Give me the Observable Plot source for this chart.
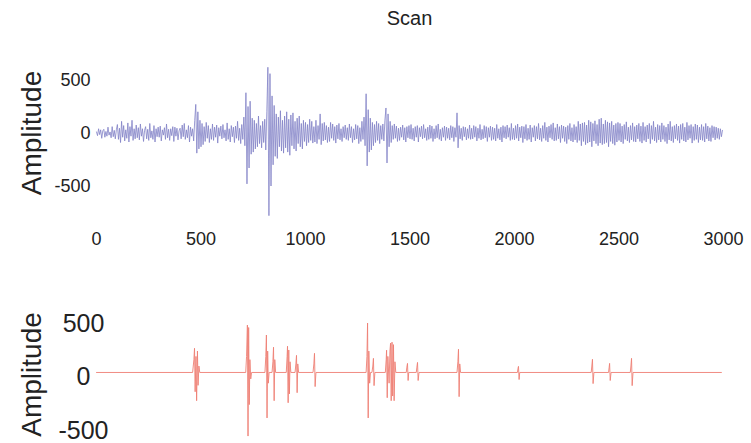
<!DOCTYPE html>
<html>
<head>
<meta charset="utf-8">
<script src="https://cdn.jsdelivr.net/npm/d3@7"></script>
<script src="https://cdn.jsdelivr.net/npm/@observablehq/plot@0.6"></script>
<style>
  html, body { margin: 0; padding: 0; background: #fff; }
  #wrap { position: relative; width: 751px; height: 443px; font-family: "Liberation Sans", Arial, sans-serif; color: #222; overflow: hidden; }
  #title { position: absolute; left: 96px; width: 627px; top: 7px; text-align: center; font-size: 20px; line-height: 22px; }
  #top { position: absolute; left: 0; top: 40px; }
  #bottom { position: absolute; left: 0; top: 265px; }
</style>
</head>
<body>
<div id="wrap">
  <div id="title">Scan</div>
  <div id="top"></div>
  <div id="bottom"></div>
</div>
<script>
// ---- Data ----
const titleText = "Scan";
const yLabel = "Amplitude";
const xTicks = [0, 500, 1000, 1500, 2000, 2500, 3000];
const yTicks = [-500, 0, 500];

// Top trace: amplitude every 5 samples (sample 0 .. 2995)
const scanStep = 5;
const scanValues = [
  10,-25,40,-15,30,-50,20,35,-40,15,-30,55,-20,10,-45,60,-35,25,-55,30,
  80,-60,45,-90,110,-40,70,-75,30,-50,95,-85,60,-30,120,-70,40,-55,75,-45,
  50,-65,85,-30,40,-80,25,60,-55,35,-70,90,-45,20,-60,70,-85,40,-35,55,
  -40,65,-75,30,-20,50,-60,85,-45,35,-70,40,-25,60,-80,55,-30,45,-65,20,
  45,-55,75,-35,90,-60,30,-45,70,-85,55,-30,40,-75,120,270,-190,200,-150,120,
  -130,90,-110,60,-80,100,-50,70,-90,40,-60,85,-70,55,-40,75,-95,50,-30,65,
  -55,80,-45,30,-75,95,-60,40,-85,70,-35,55,-90,65,-50,110,-70,45,-100,80,
  -60,150,-120,380,-480,250,-330,300,-200,140,-180,120,-150,90,-130,160,-100,70,-140,110,
  -90,130,-160,200,620,-780,560,-500,350,-300,260,-220,180,-240,150,-130,210,-170,120,-190,
  160,-140,200,-180,130,-210,170,-120,190,-150,110,-170,140,-100,160,-130,90,-150,120,-80,
  100,-120,80,-90,130,-70,110,-95,60,-85,120,-100,70,-60,180,-110,90,-75,100,-65,
  70,-90,55,-80,100,-50,85,-70,60,-95,75,-55,90,-65,40,-80,60,-45,75,-60,
  50,-70,85,-45,60,-90,40,-65,80,-55,70,-100,50,-80,110,-60,150,-120,370,-310,
  220,-180,140,-160,100,-120,80,-90,110,-70,90,-100,70,-60,85,-75,120,236,-283,180,
  -130,110,-90,70,-60,85,-50,65,-80,45,-70,55,-40,75,-65,50,-85,60,-45,70,
  -55,80,-60,45,-75,60,-40,70,-85,50,-35,65,-55,80,-45,40,-70,55,-60,75,
  -50,65,-80,40,-55,70,-45,85,-60,35,-75,50,-40,65,-70,55,-50,45,-65,70,
  -45,60,-80,50,-40,190,-140,70,-55,45,-70,60,-35,55,-65,40,-50,75,-60,45,
  -55,70,-40,60,-75,45,-50,80,-65,35,-55,70,-45,60,-80,50,-40,65,-70,55,
  -60,45,-75,80,-50,40,-65,55,-85,70,-45,60,-55,75,-40,50,-70,90,-60,45,
  -65,70,-50,85,-75,55,-45,65,-90,60,-55,80,-70,45,-60,75,-85,50,-40,70,
  -75,60,-55,90,-65,45,-80,70,-50,100,-70,55,-85,65,-45,80,-60,95,-75,50,
  -70,85,-55,60,-90,75,-50,65,-80,55,-100,70,-60,90,-75,50,-85,80,-65,60,
  -90,110,-70,85,-120,95,-80,100,-110,75,-95,120,-85,105,-130,90,-75,115,-100,80,
  -120,130,-95,140,-110,85,-100,120,-90,105,-130,95,-80,110,-100,75,-115,90,-85,100,
  -70,90,-85,65,-100,80,-60,105,-75,55,-90,70,-65,95,-80,60,-85,75,-55,90,
  -80,65,-95,100,-70,60,-85,75,-55,90,-100,70,-60,110,-75,55,-90,80,-65,70,
  -85,95,-60,70,-80,55,-100,85,-65,110,-75,60,-90,70,-55,85,-70,65,-95,80,
  -60,90,-75,55,-85,100,-65,70,-50,80,-95,60,-70,85,-60,75,-90,55,-65,80,
  -70,60,-85,90,-55,65,-75,50,-80,70,-45,60,-65,55,-50,45,-60,40,-35,25
];

// Bottom trace: sparse bursts (sample, amplitude)
const spikeX = [
  0, 460, 466, 469, 472, 476, 479, 483, 486, 490, 494,
  714, 718, 722, 725, 728, 731, 734, 738, 742,
  806, 810, 813, 816, 819, 822, 826,
  840, 844, 847, 850, 853, 857,
  908, 912, 914, 917, 920, 923, 926, 930,
  950, 954, 957, 960, 963, 967,
  1036, 1040, 1043, 1046, 1050,
  1290, 1294, 1297, 1300, 1303, 1307, 1311,
  1318, 1322, 1325, 1328, 1332,
  1382, 1386, 1388, 1391, 1394, 1400, 1404, 1407, 1410, 1414, 1417, 1421, 1424, 1428, 1432,
  1482, 1485, 1488, 1491, 1494,
  1530, 1533, 1536, 1539, 1543,
  1725, 1729, 1732, 1735, 1738, 1742,
  2014, 2017, 2019, 2022, 2025,
  2367, 2370, 2373, 2376, 2380,
  2450, 2453, 2455, 2458, 2462,
  2554, 2557, 2560, 2563, 2567,
  2990
];
const spikeY = [
  0, 0, 120, 226, -180, 150, -264, 200, -120, 60, 0,
  0, 150, 443, -594, 420, -300, 120, -60, 0,
  0, 150, 350, -425, 200, -100, 0,
  0, 100, 236, -264, 120, 0,
  0, 150, 245, -283, 210, -200, 100, 0,
  0, 80, 160, -189, 80, 0,
  0, 80, 179, -132, 0,
  0, 150, 462, -425, 200, -100, 0,
  0, 60, 132, -123, 0,
  0, 120, 208, -236, 150, -100, 200, 274, -264, 283, -220, 260, -264, 100, 0,
  0, 50, 85, -75, 0,
  0, 50, 94, -75, 0,
  0, 100, 217, -226, 80, 0,
  0, 40, 57, -66, 0,
  0, 60, 123, -104, 0,
  0, 50, 85, -75, 0,
  0, 60, 132, -123, 0,
  0
];

// ---- Tables for the library ----
const scan = scanValues.map((v, i) => ({sample: i * scanStep, amplitude: v}));
const spikes = spikeX.map((x, i) => ({sample: x, amplitude: spikeY[i]}));

document.getElementById("title").textContent = titleText;

const font = "'Liberation Sans', Arial, sans-serif";

const topPlot = Plot.plot({
  width: 751,
  height: 215,
  marginLeft: 96,
  marginRight: 28,
  marginTop: 18.3,
  marginBottom: 37.7,
  x: {domain: [0, 3000]},
  y: {domain: [-800, 700]},
  style: {fontFamily: font, color: "#222", background: "transparent", overflow: "visible"},
  marks: [
    Plot.line(scan, {x: "sample", y: "amplitude", stroke: "#8282c6", strokeWidth: 0.8}),
    Plot.axisX({ticks: xTicks, tickSize: 0, tickPadding: 14, label: null, fontSize: 18, tickFormat: d => String(d)}),
    Plot.axisY({ticks: yTicks, tickSize: 0, tickPadding: 6, label: null, fontSize: 18, tickFormat: d => String(d)}),
    Plot.text([yLabel], {y: () => 0, frameAnchor: "left", textAnchor: "middle", dx: -64, rotate: -90, fontSize: 28, fill: "#222"})
  ]
});
document.getElementById("top").append(topPlot);

const bottomPlot = Plot.plot({
  width: 751,
  height: 178,
  marginLeft: 96,
  marginRight: 28,
  marginTop: 48.1,
  marginBottom: 6.8,
  x: {domain: [0, 3000], axis: null},
  y: {domain: [-600, 550]},
  style: {fontFamily: font, color: "#222", background: "transparent", overflow: "visible"},
  marks: [
    Plot.line(spikes, {x: "sample", y: "amplitude", stroke: "#ee7f74", strokeWidth: 0.9}),
    Plot.axisY({ticks: yTicks, tickSize: 0, tickPadding: 0, dx: -13, dy: 5, textAnchor: "middle", label: null, fontSize: 25, tickFormat: d => String(d)}),
    Plot.text([yLabel], {y: () => 0, frameAnchor: "left", textAnchor: "middle", dx: -64, dy: 2, rotate: -90, fontSize: 28, fill: "#222"})
  ]
});
document.getElementById("bottom").append(bottomPlot);
</script>
</body>
</html>
